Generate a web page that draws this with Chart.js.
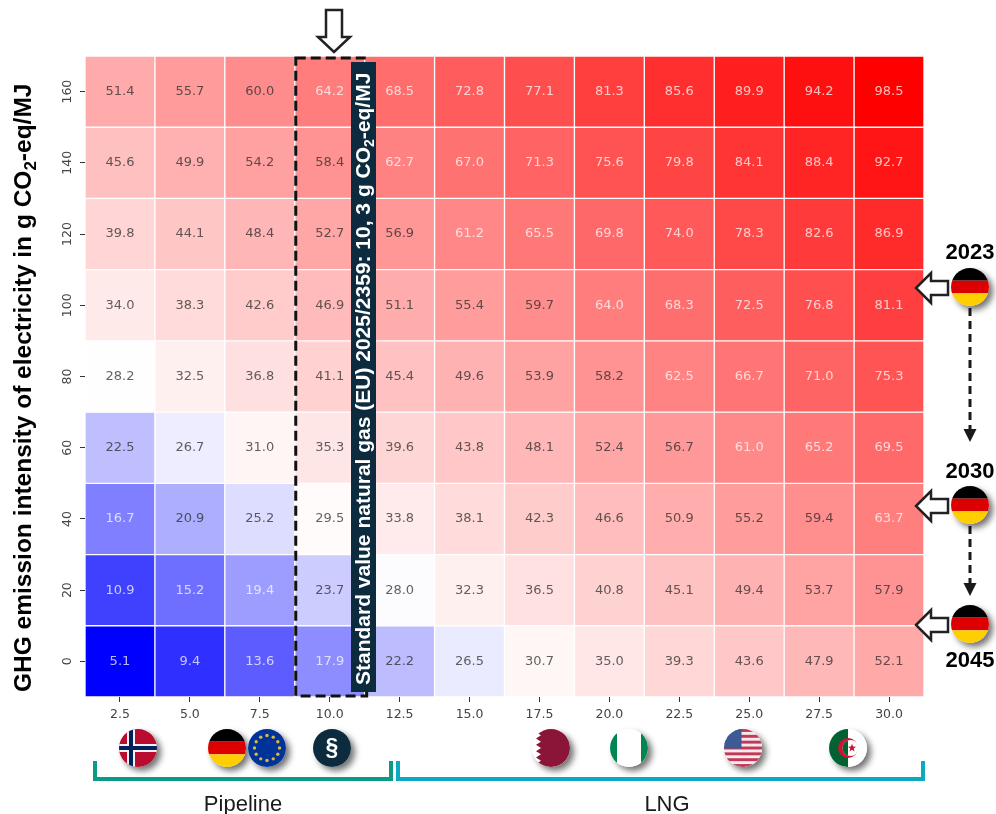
<!DOCTYPE html>
<html>
<head>
<meta charset="utf-8">
<title>GHG intensity heatmap</title>
<script src="https://cdn.jsdelivr.net/npm/chart.js@4/dist/chart.umd.min.js"></script>
<style>
    html, body { margin: 0; padding: 0; background: #fff; }
    canvas { display: block; }
</style>
</head>
<body>
<canvas id="heatmap" width="996" height="814"></canvas>
<script>
// Heatmap data
const xLabels = ['2.5', '5.0', '7.5', '10.0', '12.5', '15.0', '17.5', '20.0', '22.5', '25.0', '27.5', '30.0'];
const yLabels = [160, 140, 120, 100, 80, 60, 40, 20, 0];

const row160 = [51.4, 55.7, 60.0, 64.2, 68.5, 72.8, 77.1, 81.3, 85.6, 89.9, 94.2, 98.5];
const row140 = [45.6, 49.9, 54.2, 58.4, 62.7, 67.0, 71.3, 75.6, 79.8, 84.1, 88.4, 92.7];
const row120 = [39.8, 44.1, 48.4, 52.7, 56.9, 61.2, 65.5, 69.8, 74.0, 78.3, 82.6, 86.9];
const row100 = [34.0, 38.3, 42.6, 46.9, 51.1, 55.4, 59.7, 64.0, 68.3, 72.5, 76.8, 81.1];
const row80 = [28.2, 32.5, 36.8, 41.1, 45.4, 49.6, 53.9, 58.2, 62.5, 66.7, 71.0, 75.3];
const row60 = [22.5, 26.7, 31.0, 35.3, 39.6, 43.8, 48.1, 52.4, 56.7, 61.0, 65.2, 69.5];
const row40 = [16.7, 20.9, 25.2, 29.5, 33.8, 38.1, 42.3, 46.6, 50.9, 55.2, 59.4, 63.7];
const row20 = [10.9, 15.2, 19.4, 23.7, 28.0, 32.3, 36.5, 40.8, 45.1, 49.4, 53.7, 57.9];
const row0 = [5.1, 9.4, 13.6, 17.9, 22.2, 26.5, 30.7, 35.0, 39.3, 43.6, 47.9, 52.1];
const rows = [row160, row140, row120, row100, row80, row60, row40, row20, row0];

const ROW_STEP = 20;
const COLOR_MIN = 5.1;
const COLOR_MID = 28.3;
const COLOR_MAX = 98.5;
const SANS = '"Liberation Sans", Arial, sans-serif';
const DEJAVU = '"DejaVu Sans", sans-serif';
const NAVY = '#0d2b3e';

// Blue - white - red, centred on COLOR_MID
function cellColor(v) {
    if (v < COLOR_MID) {
        const c = Math.round(255 * Math.max(0, v - COLOR_MIN) / (COLOR_MID - COLOR_MIN));
        return `rgb(${c},${c},255)`;
    }
    const c = Math.round(255 * (1 - (v - COLOR_MID) / (COLOR_MAX - COLOR_MID)));
    return `rgb(255,${c},${c})`;
}

function labelColor(v) {
    const light = v < 20 || v > 60.5;
    return light ? 'rgba(255,255,255,0.72)' : 'rgba(38,38,38,0.72)';
}

function text(ctx, str, x, y, font, color, align) {
    ctx.font = font;
    ctx.fillStyle = color;
    ctx.textAlign = align || 'center';
    ctx.textBaseline = 'middle';
    ctx.fillText(str, x, y);
}

// --- flags ---
function flag(ctx, cx, cy, r, paint) {
    ctx.save();
    ctx.shadowColor = 'rgba(0,0,0,0.55)';
    ctx.shadowBlur = 6;
    ctx.shadowOffsetX = 4;
    ctx.shadowOffsetY = 4;
    ctx.fillStyle = '#fff';
    ctx.beginPath();
    ctx.arc(cx, cy, r, 0, Math.PI * 2);
    ctx.fill();
    ctx.restore();
    ctx.save();
    ctx.beginPath();
    ctx.arc(cx, cy, r, 0, Math.PI * 2);
    ctx.clip();
    paint(cx - r, cy - r, r * 2);
    ctx.restore();
}

function flagGermany(ctx, cx, cy) {
    flag(ctx, cx, cy, 19, (x, y, s) => {
        ctx.fillStyle = '#000';
        ctx.fillRect(x, y, s, s / 3);
        ctx.fillStyle = '#dd0000';
        ctx.fillRect(x, y + s / 3, s, s / 3);
        ctx.fillStyle = '#ffce00';
        ctx.fillRect(x, y + s * 2 / 3, s, s / 3);
    });
}

function flagNorway(ctx, cx, cy) {
    flag(ctx, cx, cy, 19, (x, y, s) => {
        ctx.fillStyle = '#ba0c2f';
        ctx.fillRect(x, y, s, s);
        ctx.fillStyle = '#f2f2f2';
        ctx.fillRect(x + 8, y, 8, s);
        ctx.fillRect(x, y + s / 2 - 4, s, 8);
        ctx.fillStyle = '#00205b';
        ctx.fillRect(x + 10, y, 4, s);
        ctx.fillRect(x, y + s / 2 - 2, s, 4);
    });
}

function flagEu(ctx, cx, cy) {
    flag(ctx, cx, cy, 19, (x, y, s) => {
        ctx.fillStyle = '#003399';
        ctx.fillRect(x, y, s, s);
        ctx.fillStyle = '#d8b93a';
        for (let i = 0; i < 12; i++) {
            const a = i * Math.PI / 6;
            ctx.beginPath();
            ctx.arc(cx + Math.cos(a) * 12.5, cy + Math.sin(a) * 12.5, 1.7, 0, Math.PI * 2);
            ctx.fill();
        }
    });
}

function flagParagraph(ctx, cx, cy) {
    flag(ctx, cx, cy, 19, (x, y, s) => {
        ctx.fillStyle = NAVY;
        ctx.fillRect(x, y, s, s);
        text(ctx, '§', cx, cy + 1, 'bold 23px ' + SANS, '#fff');
    });
}

function flagQatar(ctx, cx, cy) {
    flag(ctx, cx, cy, 19, (x, y, s) => {
        ctx.fillStyle = '#fff';
        ctx.fillRect(x, y, s, s);
        ctx.fillStyle = '#8a1538';
        ctx.beginPath();
        ctx.moveTo(x + s, y);
        ctx.lineTo(x + 9, y);
        const teeth = 6;
        const h = s / teeth;
        for (let i = 0; i < teeth; i++) {
            ctx.lineTo(x + 4, y + h * i + h / 2);
            ctx.lineTo(x + 9, y + h * (i + 1));
        }
        ctx.lineTo(x + s, y + s);
        ctx.closePath();
        ctx.fill();
    });
}

function flagNigeria(ctx, cx, cy) {
    flag(ctx, cx, cy, 19, (x, y, s) => {
        ctx.fillStyle = '#fff';
        ctx.fillRect(x, y, s, s);
        ctx.fillStyle = '#008751';
        ctx.fillRect(x, y, 7, s);
        ctx.fillRect(x + s - 7, y, 7, s);
    });
}

function flagUsa(ctx, cx, cy) {
    flag(ctx, cx, cy, 19, (x, y, s) => {
        ctx.fillStyle = '#f4eaea';
        ctx.fillRect(x, y, s, s);
        ctx.fillStyle = '#c0395a';
        for (let i = 0; i < 7; i++) {
            ctx.fillRect(x, y + i * s * 2 / 13, s, s / 13);
        }
        ctx.fillStyle = '#3c5a94';
        ctx.fillRect(x, y, s * 0.46, s * 7 / 13 - 1);
    });
}

function flagAlgeria(ctx, cx, cy) {
    flag(ctx, cx, cy, 19, (x, y, s) => {
        ctx.fillStyle = '#fff';
        ctx.fillRect(x, y, s, s);
        ctx.fillStyle = '#006233';
        ctx.fillRect(x, y, s / 2, s);
        ctx.fillStyle = '#d21034';
        ctx.beginPath();
        ctx.arc(cx, cy, 10, 0, Math.PI * 2);
        ctx.fill();
        // inner part of the crescent takes the colours back
        ctx.save();
        ctx.beginPath();
        ctx.arc(cx + 2.5, cy, 8, 0, Math.PI * 2);
        ctx.clip();
        ctx.fillStyle = '#fff';
        ctx.fillRect(x, y, s, s);
        ctx.fillStyle = '#006233';
        ctx.fillRect(x, y, s / 2, s);
        ctx.restore();
        ctx.fillStyle = '#d21034';
        ctx.beginPath();
        for (let i = 0; i < 10; i++) {
            const a = -Math.PI / 2 + i * Math.PI / 5;
            const rad = i % 2 ? 1.8 : 4.2;
            ctx.lineTo(cx + 4 + Math.cos(a) * rad, cy + Math.sin(a) * rad);
        }
        ctx.closePath();
        ctx.fill();
    });
}

// --- arrows and brackets ---
function hollowArrowLeft(ctx, tipX, y) {
    ctx.beginPath();
    ctx.moveTo(tipX, y);
    ctx.lineTo(tipX + 15, y - 15);
    ctx.lineTo(tipX + 15, y - 7);
    ctx.lineTo(tipX + 32, y - 7);
    ctx.lineTo(tipX + 32, y + 7);
    ctx.lineTo(tipX + 15, y + 7);
    ctx.lineTo(tipX + 15, y + 15);
    ctx.closePath();
    ctx.fillStyle = '#fff';
    ctx.fill();
    ctx.strokeStyle = '#222';
    ctx.lineWidth = 2.5;
    ctx.stroke();
}

function hollowArrowDown(ctx, x, top, tip) {
    ctx.beginPath();
    ctx.moveTo(x - 8, top);
    ctx.lineTo(x + 8, top);
    ctx.lineTo(x + 8, tip - 15);
    ctx.lineTo(x + 16, tip - 15);
    ctx.lineTo(x, tip);
    ctx.lineTo(x - 16, tip - 15);
    ctx.lineTo(x - 8, tip - 15);
    ctx.closePath();
    ctx.fillStyle = '#fff';
    ctx.fill();
    ctx.strokeStyle = '#222';
    ctx.lineWidth = 2.5;
    ctx.stroke();
}

function dashedArrowDown(ctx, x, from, tip) {
    ctx.save();
    ctx.strokeStyle = '#1a1a1a';
    ctx.lineWidth = 3;
    ctx.setLineDash([8, 5]);
    ctx.beginPath();
    ctx.moveTo(x, from);
    ctx.lineTo(x, tip - 10);
    ctx.stroke();
    ctx.restore();
    ctx.fillStyle = '#1a1a1a';
    ctx.beginPath();
    ctx.moveTo(x - 6.5, tip - 13);
    ctx.lineTo(x + 6.5, tip - 13);
    ctx.lineTo(x, tip);
    ctx.closePath();
    ctx.fill();
}

function bracket(ctx, left, right, color) {
    ctx.strokeStyle = color;
    ctx.lineWidth = 4;
    ctx.lineJoin = 'miter';
    ctx.beginPath();
    ctx.moveTo(left, 761);
    ctx.lineTo(left, 779);
    ctx.lineTo(right, 779);
    ctx.lineTo(right, 761);
    ctx.stroke();
}

// Text running bottom to top, with the 2 of CO2 set as a subscript
function verticalWithSub(ctx, x, yStart, size, color, before, sub, after) {
    ctx.save();
    ctx.translate(x, yStart);
    ctx.rotate(-Math.PI / 2);
    ctx.fillStyle = color;
    ctx.textAlign = 'left';
    ctx.textBaseline = 'middle';
    ctx.font = `bold ${size}px ${SANS}`;
    ctx.fillText(before, 0, 0);
    let pos = ctx.measureText(before).width;
    ctx.font = `bold ${Math.round(size * 0.68)}px ${SANS}`;
    ctx.fillText(sub, pos, size * 0.3);
    pos += ctx.measureText(sub).width;
    ctx.font = `bold ${size}px ${SANS}`;
    ctx.fillText(after, pos, 0);
    ctx.restore();
}

// Cell numbers, drawn on top of the bars
const cellLabelPlugin = {
    id: 'cellLabels',
    afterDatasetsDraw(chart) {
        const ctx = chart.ctx;
        ctx.save();
        rows.forEach((row, r) => {
            chart.getDatasetMeta(r).data.forEach((bar, c) => {
                const mid = (bar.y + bar.base) / 2;
                text(ctx, row[c].toFixed(1), bar.x, mid, '13px ' + DEJAVU, labelColor(row[c]));
            });
        });
        ctx.restore();
    }
};

// Everything that was pasted over the heatmap in the original figure
const overlayPlugin = {
    id: 'overlay',
    afterDraw(chart) {
        const ctx = chart.ctx;
        const xs = chart.scales.x;
        const ys = chart.scales.y;
        ctx.save();

        // dashed box round the 10.0 column
        const boxLeft = xs.getPixelForValue(3) - xs.width / 24;
        const boxRight = xs.getPixelForValue(3) + xs.width / 24;
        ctx.save();
        ctx.strokeStyle = '#111';
        ctx.lineWidth = 3;
        ctx.setLineDash([10, 5]);
        ctx.strokeRect(boxLeft + 1, ys.top + 2, boxRight - boxLeft + 1, ys.height - 3);
        ctx.restore();

        // standard value band
        ctx.fillStyle = NAVY;
        ctx.fillRect(351, 62, 25, 630);
        verticalWithSub(ctx, 364, 685, 21, '#fff',
            'Standard value natural gas (EU) 2025/2359: 10, 3 g CO', '2', '-eq/MJ');

        hollowArrowDown(ctx, 334, 10, 52);

        // y axis title
        verticalWithSub(ctx, 24, 692, 24.5, '#000',
            'GHG emission intensity of electricity in g CO', '2', '-eq/MJ');

        // right side timeline
        hollowArrowLeft(ctx, 916, 288);
        hollowArrowLeft(ctx, 916, 506);
        hollowArrowLeft(ctx, 916, 625);
        dashedArrowDown(ctx, 970, 308, 442);
        dashedArrowDown(ctx, 970, 526, 596);
        flagGermany(ctx, 970, 287);
        flagGermany(ctx, 970, 505);
        flagGermany(ctx, 970, 624);
        text(ctx, '2023', 970, 253, 'bold 22px ' + SANS, '#000');
        text(ctx, '2030', 970, 472, 'bold 22px ' + SANS, '#000');
        text(ctx, '2045', 970, 661, 'bold 22px ' + SANS, '#000');

        // flags under the x axis
        flagNorway(ctx, 138, 748);
        flagGermany(ctx, 227, 748);
        flagEu(ctx, 267, 748);
        flagParagraph(ctx, 332, 748);
        flagQatar(ctx, 551, 748);
        flagNigeria(ctx, 629, 748);
        flagUsa(ctx, 743, 748);
        flagAlgeria(ctx, 848, 748);

        bracket(ctx, 95, 391, '#0b9a85');
        bracket(ctx, 398, 923, '#0aaac4');
        text(ctx, 'Pipeline', 243, 805, '22px ' + SANS, '#1a1a1a');
        text(ctx, 'LNG', 667, 805, '22px ' + SANS, '#1a1a1a');

        ctx.restore();
    }
};

new Chart(document.getElementById('heatmap'), {
    type: 'bar',
    data: {
        labels: xLabels,
        datasets: rows.map((row, r) => ({
            label: String(yLabels[r]),
            data: row.map(() => [yLabels[r] - ROW_STEP / 2, yLabels[r] + ROW_STEP / 2]),
            backgroundColor: row.map(cellColor),
            borderColor: '#fff',
            borderWidth: 1,
            borderSkipped: false,
            grouped: false,
            barPercentage: 1,
            categoryPercentage: 1
        }))
    },
    options: {
        responsive: false,
        animation: false,
        devicePixelRatio: 1,
        layout: { padding: { top: 56, right: 72, bottom: 0, left: 0 } },
        plugins: {
            legend: { display: false },
            tooltip: { enabled: false },
            title: { display: false }
        },
        scales: {
            x: {
                afterFit: (scale) => { scale.height = 117; },
                border: { display: false },
                grid: { offset: false, drawOnChartArea: false, drawTicks: true, tickLength: 5, tickColor: '#333' },
                ticks: {
                    color: '#444',
                    padding: 5,
                    maxRotation: 0,
                    font: { family: 'DejaVu Sans', size: 12.5 }
                }
            },
            y: {
                min: -ROW_STEP / 2,
                max: yLabels[0] + ROW_STEP / 2,
                afterFit: (scale) => { scale.width = 85; },
                afterBuildTicks: (scale) => {
                    scale.ticks = yLabels.slice().reverse().map((v) => ({ value: v }));
                },
                border: { display: false },
                grid: { drawOnChartArea: false, drawTicks: true, tickLength: 5, tickColor: '#333' },
                ticks: {
                    color: '#444',
                    padding: 0,
                    minRotation: 90,
                    maxRotation: 90,
                    crossAlign: 'center',
                    autoSkip: false,
                    callback: (v) => String(v),
                    font: { family: 'DejaVu Sans', size: 12.5 }
                }
            }
        }
    },
    plugins: [cellLabelPlugin, overlayPlugin]
});
</script>
</body>
</html>
